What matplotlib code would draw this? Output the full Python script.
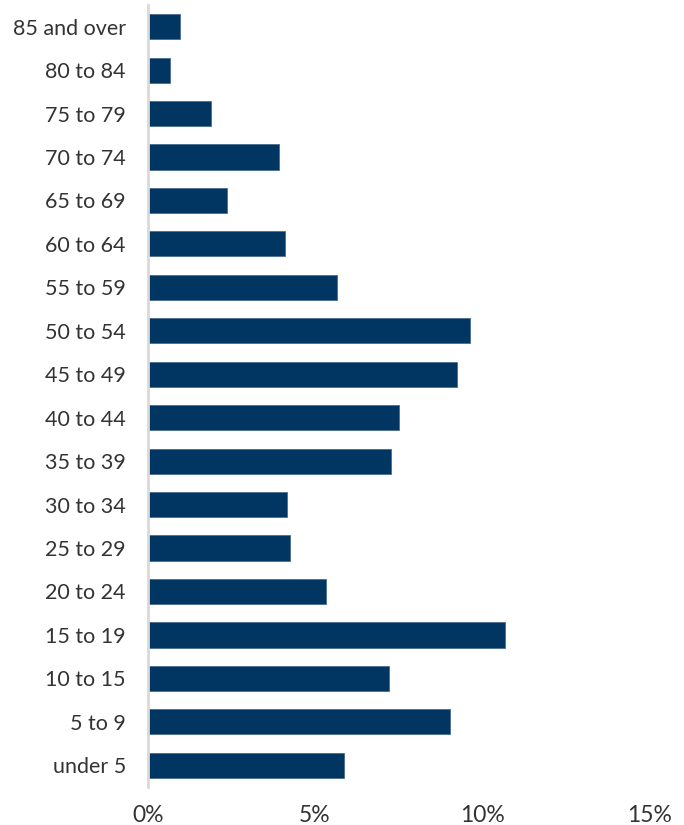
import numpy as np
import matplotlib.pyplot as plt

# age groups, top to bottom as in the chart
groups = ["85 and over", "80 to 84", "75 to 79", "70 to 74", "65 to 69",
          "60 to 64", "55 to 59", "50 to 54", "45 to 49", "40 to 44",
          "35 to 39", "30 to 34", "25 to 29", "20 to 24", "15 to 19",
          "10 to 15", "5 to 9", "under 5"]
shares = [0.97, 0.65, 1.88, 3.92, 2.37,
          4.10, 5.66, 9.64, 9.24, 7.51,
          7.27, 4.16, 4.25, 5.33, 10.69,
          7.22, 9.04, 5.87]
xticks = [0, 5, 10, 15]

plt.rcParams['font.family'] = ['Lato', 'DejaVu Sans']

fig = plt.figure(figsize=(6.84, 8.25), dpi=100)
ax = fig.add_axes([0.2164, 0.0461, 0.7325, 0.9479])

y = np.arange(len(groups))[::-1]
ax.barh(y, shares, height=0.58, color="#023662", edgecolor="#4a6d8f", linewidth=0.6)

ax.set_xlim(0, 15)
ax.set_ylim(-0.5, len(groups) - 0.5)
ax.set_yticks(y)
ax.set_yticklabels(groups)
ax.set_xticks(xticks)
ax.set_xticklabels([f"{t}%" for t in xticks])

for s in ["top", "right", "bottom"]:
    ax.spines[s].set_visible(False)
ax.spines["left"].set_color("#d9d9d9")
ax.spines["left"].set_linewidth(2)
ax.tick_params(axis="both", length=0, labelsize=15.5, colors="#333333")
ax.tick_params(axis="x", labelsize=16.5)
ax.tick_params(axis="y", pad=16)
ax.tick_params(axis="x", pad=13)

plt.savefig("out.png", dpi=100)
